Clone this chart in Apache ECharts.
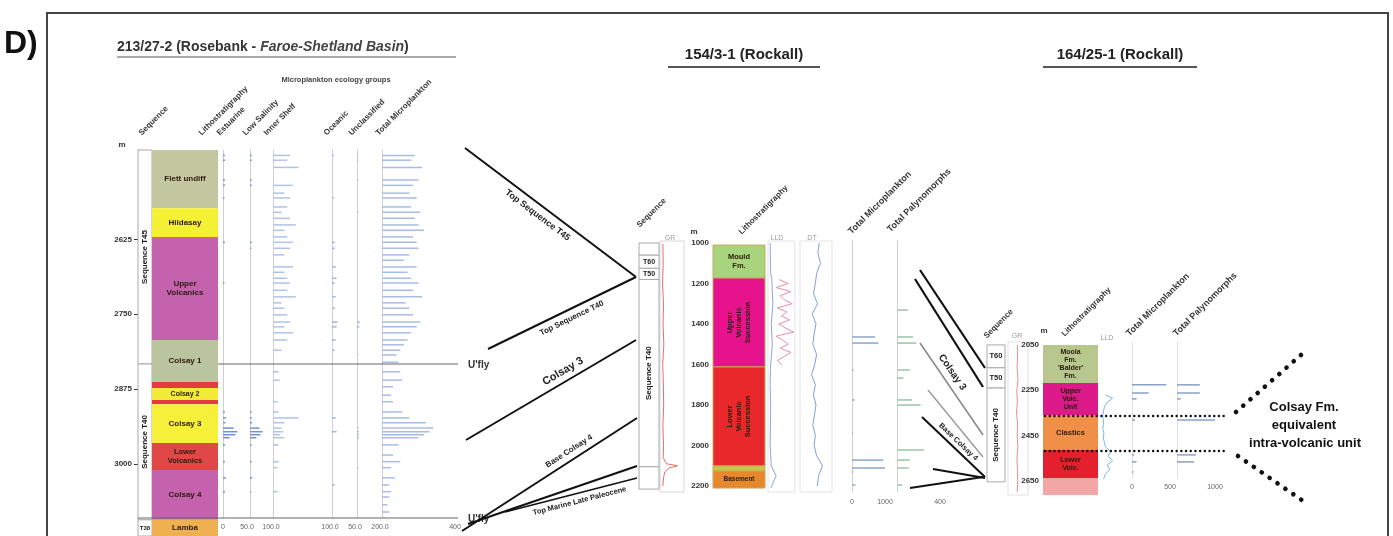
<!DOCTYPE html>
<html><head><meta charset="utf-8">
<script src="https://cdn.jsdelivr.net/npm/echarts@6/dist/echarts.min.js"></script>
<style>html,body{margin:0;padding:0;background:#fff}#c{width:1393px;height:536px}</style>
</head><body><div id="c"></div>
<script>
// ===================== DATA =====================
// --- Well 213/27-2 (Rosebank) ---
const leftDepthTicks = [2625, 2750, 2875, 3000];
const leftSeqNames = ['Sequence T45', 'Sequence T40', 'T38'];
const leftSeqTop  = [2476, 2833, 3093];
const leftSeqBase = [2833, 3093, 3120];
const leftLithoNames = ['Flett undiff', 'Hildasay', 'Upper\nVolcanics', 'Colsay 1', '', 'Colsay 2', '', 'Colsay 3', 'Lower\nVolcanics', 'Colsay 4', 'Lamba'];
const leftLithoTop  = [2476, 2573, 2621, 2793, 2863, 2873, 2893, 2900, 2965, 3010, 3093];
const leftLithoBase = [2573, 2621, 2793, 2863, 2873, 2893, 2900, 2965, 3010, 3093, 3120];
const leftMicroGroups = ['Estuarine', 'Low Salinity', 'Inner Shelf', 'Oceanic', 'Unclassified', 'Total Microplankton'];
const leftMicroMax = [50, 100, 100, 50, 200, 400];
const leftMicroTickText = ['50.0', '100.0', '100.0', '50.0', '200.0', '400'];
const leftSampleDepth = [2485,2493,2505,2526,2535,2548,2556,2571,2580,2590,2601,2610,2621,2630,2640,2651,2660,2671,2680,2690,2698,2710,2721,2731,2740,2751,2763,2771,2781,2793,2801,2810,2818,2830,2846,2860,2871,2885,2896,2913,2923,2931,2940,2946,2951,2956,2968,2985,2996,3006,3023,3035,3046,3055,3068,3080];
const leftEstuarine   = [4,4,0,4,4,0,3,0,0,0,0,0,0,4,0,0,0,0,0,0,3,0,0,0,0,0,0,0,0,0,0,0,0,0,0,0,0,0,0,4,6,5,22,30,26,14,4,0,4,0,6,0,4,0,0,0];
const leftLowSalinity = [8,8,0,8,8,0,0,0,0,0,0,0,0,8,6,0,0,0,0,0,0,0,0,0,0,0,0,0,0,0,0,0,0,0,0,0,0,0,0,8,8,10,45,60,50,30,8,0,8,0,10,0,6,0,0,0];
const leftInnerShelf  = [30,25,45,0,35,20,30,25,15,30,40,20,25,35,30,20,0,35,20,25,30,25,40,15,20,25,30,20,35,25,0,15,0,0,10,12,0,0,8,10,45,20,15,18,12,20,10,0,10,8,0,0,8,0,0,0];
const leftOceanic     = [4,0,0,0,0,0,4,0,0,0,0,0,0,6,6,0,0,8,0,10,6,0,8,0,6,0,12,10,0,8,0,6,0,0,0,0,0,0,0,0,8,0,0,10,0,0,0,0,0,0,0,6,0,0,0,0];
const leftUnclassified= [10,10,0,10,0,0,0,0,12,0,0,0,0,0,0,0,0,0,0,0,0,0,0,0,0,0,25,20,0,0,0,0,10,0,0,0,0,0,0,0,0,0,15,15,15,15,0,0,0,12,0,0,0,0,0,0];
const leftTotalMicro  = [180,160,220,200,170,150,190,160,210,180,200,230,170,190,200,150,120,190,140,160,200,170,220,130,150,170,210,190,160,140,120,100,80,90,100,110,60,50,60,110,150,240,280,260,230,200,90,60,100,50,70,40,50,40,30,40];
const leftUflyDepth = [2833, 3090];

// --- Well 154/3-1 (Rockall) ---
const midDepthTicks = [1000, 1200, 1400, 1600, 1800, 2000, 2200];
const midSeqNames = ['', 'T60', 'T50', 'Sequence T40', ''];
const midSeqTop  = [1000, 1060, 1125, 1180, 2105];
const midSeqBase = [1060, 1125, 1180, 2105, 2215];
const midLithoNames = ['Mould\nFm.', 'Upper\nVolcanic\nSuccession', 'Lower\nVolcanic\nSuccession', '', 'Basement'];
const midLithoTop  = [1010, 1173, 1612, 2101, 2126];
const midLithoBase = [1173, 1612, 2101, 2126, 2210];
const midGRDepth = [1005,1100,1200,1300,1400,1500,1600,1700,1800,1900,2000,2060,2090,2100,2110,2130,2160,2200];
const midGR      = [18,20,16,22,19,24,17,21,23,18,22,20,40,110,60,30,22,18];
const midLLDDepth = [1180,1200,1220,1240,1260,1280,1300,1320,1340,1360,1380,1400,1420,1440,1460,1480,1500,1520,1540,1560,1580,1600];
const midLLD      = [40,75,30,85,45,60,90,35,70,50,80,40,65,95,30,55,75,45,85,60,35,50];
const midLLSDepth = [1000,1150,1180,1300,1400,1500,1600,1620,1700,1800,1900,2000,2100,2150,2210];
const midLLS      = [8,10,14,18,12,16,10,9,8,10,9,8,12,30,10];
const midDTDepth = [1000,1050,1100,1150,1200,1250,1300,1350,1400,1450,1500,1550,1600,1650,1700,1750,1800,1850,1900,1950,2000,2050,2100,2150,2200];
const midDT      = [100,96,104,92,88,82,95,78,90,84,80,92,86,76,88,82,90,85,80,88,84,92,110,98,94];
const midMicroDepth = [1331,1464,1494,1627,1667,1775,1800,1938,2022,2072,2111,2131,2195];
const midTotMicro   = [0,700,800,50,0,80,0,30,0,950,1000,40,100];
const midTotPaly    = [100,150,180,120,60,140,220,0,250,120,110,0,50];

// --- Well 164/25-1 (Rockall) ---
const rightDepthTicks = [2050, 2250, 2450, 2650];
const rightSeqNames = ['T60', 'T50', 'Sequence T40'];
const rightSeqTop  = [2050, 2151, 2240];
const rightSeqBase = [2151, 2240, 2654];
const rightLithoNames = ["Moola\nFm.\n'Balder'\nFm.", 'Upper\nVolc.\nUnit', 'Clastics', 'Lower\nVolc.', ''];
const rightLithoTop  = [2050, 2218, 2359, 2513, 2637];
const rightLithoBase = [2218, 2359, 2513, 2637, 2712];
const rightGRDepth = [2050,2100,2150,2200,2250,2300,2350,2400,2450,2500,2550,2600,2650,2700];
const rightGR      = [70,72,68,75,66,70,64,72,69,74,67,71,73,69];
const rightLLDDepth = [2270,2285,2300,2320,2340,2360,2380,2400,2420,2440,2460,2480,2500,2520,2540,2560,2580,2600,2620,2640];
const rightLLD      = [30,70,45,25,20,15,18,20,15,22,18,25,30,60,45,70,40,55,30,20];
const rightMicroDepth = [2226,2262,2288,2381,2535,2566,2610];
const rightTotMicro   = [450,220,60,40,30,60,20];
const rightTotPaly    = [600,600,100,1000,500,450,0];

// --- Correlation panel (schematic connectors, panel units) ---
const connFrom = [[465,148],[488,349],[466,440],[462,531],[468,524],[505,512],[920,270],[915,279],[920,343],[928,390],[922,417],[933,469],[910,488]];
const connTo   = [[636,277],[636,277],[636,340],[637,418],[637,466],[637,478],[985,368],[983,387],[983,435],[983,457],[985,477],[985,478],[983,477]];
const connLabels = ['Top Sequence T45','Top Sequence T40','Colsay 3','Base Colsay 4','','Top Marine Late Paleocene','','','Colsay 3','','Base Colsay 4','',''];
const dotFrom = [[1045,416],[1045,451]];
const dotTo   = [[1228,416],[1228,451]];
const fanFrom = [[1236,412],[1238,456]];
const fanTo   = [[1302,354],[1306,503]];

// ===================== STYLE / LAYOUT =====================
const FONT = '"Liberation Sans", Arial, Helvetica, sans-serif';
const leftLithoColors = ['#c3c79f','#f4f034','#c462ae','#bac5a0','#e23c3c','#f2ec38','#e23c3c','#f6f03a','#e04848','#c462ae','#eeb050'];
const midLithoColors = ['#a8d47e','#e6138c','#e8282a','#c8c848','#e8882c'];
const rightLithoColors = ['#b8c78e','#dc1a8a','#f09048','#e4202e','#f2a6a6'];
const connStyle = [
  {c:'#111', w:2, t:0.46, off:10, fs:9},
  {c:'#111', w:2, t:0.54, off:9, fs:8},
  {c:'#111', w:2, t:0.6, off:-10, fs:11},
  {c:'#111', w:2, t:0.64, off:-9, fs:8},
  {c:'#111', w:2},
  {c:'#111', w:1.6, t:0.55, off:8, fs:7.5},
  {c:'#111', w:2.2},
  {c:'#111', w:2.2},
  {c:'#8a8a8a', w:1.6, t:0.38, off:-10, fs:10},
  {c:'#9a9a9a', w:1.4},
  {c:'#111', w:2, t:0.5, off:-7, fs:7.5},
  {c:'#111', w:1.8},
  {c:'#111', w:1.8}
];

const L = {top:150, h:386, min:2476, max:3120};
const Lpx = L.h / (L.max - L.min);
const Lmicro = {top:150, h:368};
const LmicroMax = L.min + Lmicro.h / Lpx;
const M = {top:241, h:251.1, min:990, max:2230};
const R = {top:342, h:153, min:2037, max:2712};
const Rpx = R.h / (R.max - R.min);
const RmicroH = 136;
const RmicroMax = R.min + RmicroH / Rpx;

const grids = [], xAxes = [], yAxes = [];
function addGrid(box, xa, ya, extra) {
  grids.push(Object.assign({left: box[0], top: box[1], width: box[2], height: box[3]}, extra || {}));
  const gi = grids.length - 1;
  xAxes.push(Object.assign({gridIndex: gi, type: 'value'}, xa));
  yAxes.push(Object.assign({gridIndex: gi, type: 'value'}, ya));
  return gi;
}
const hiddenX = () => ({show:false, min:0, max:1});
const hiddenD = (min, max) => ({show:false, inverse:true, min, max});
function labeledD(min, max, ticks, o) {
  return {show:true, inverse:true, min, max,
    axisLine:{show:!!o.line, onZero:false, lineStyle:{color:'#777', width:1}},
    axisTick:{show:!!o.tick, customValues:ticks, length:4, lineStyle:{color:'#333'}},
    axisLabel:{show:true, customValues:ticks, fontSize:o.fs||8, fontWeight:'bold', color:'#333', fontFamily:FONT, margin:o.margin||4,
      formatter: v => String(v)},
    splitLine:{show:false}};
}
function microY(min, max, color) {
  return {show:true, inverse:true, min, max,
    axisLine:{show:true, onZero:false, lineStyle:{color: color || '#cfcfcf', width:1}},
    axisTick:{show:false}, axisLabel:{show:false}, splitLine:{show:false}};
}
function microX(max, vals, fmt) {
  return {show:true, min:0, max, axisLine:{show:false}, axisTick:{show:false}, splitLine:{show:false},
    axisLabel:{customValues:vals, fontSize:7, color:'#666', fontFamily:FONT, margin:6, formatter:fmt}};
}

const series = [];
function unitsSeries(gi, names, tops, bases, colors, o) {
  return {type:'custom', xAxisIndex:gi, yAxisIndex:gi, clip:false, silent:true, z:o.z || 2,
    data: tops.map((t, i) => [t, bases[i]]), encode:{y:[0, 1]},
    renderItem(params, api) {
      const i = params.dataIndex;
      const a = api.coord([0, api.value(0)]);
      const b = api.coord([1, api.value(1)]);
      const ch = [{type:'rect', shape:{x:a[0], y:a[1], width:b[0]-a[0], height:b[1]-a[1]},
        style:{fill:colors[i], stroke:o.stroke || null, lineWidth:o.lw || 0}}];
      if (names[i]) {
        ch.push({type:'text', x:(a[0]+b[0])/2, y:(a[1]+b[1])/2, rotation:(o.rot && o.rot[i]) ? Math.PI/2 : 0,
          style:{text:names[i], align:'center', verticalAlign:'middle', fontSize:o.fs ? o.fs[i] : 8,
            fontWeight:'bold', fontFamily:FONT, fill:o.tc || '#2a1a0a', lineHeight:o.lh || 9}});
      }
      return {type:'group', children:ch};
    }};
}
function barsSeries(gi, depths, vals, color, thick) {
  return {type:'custom', xAxisIndex:gi, yAxisIndex:gi, clip:false, silent:true, z:3,
    data: depths.map((d, i) => [vals[i], d]).filter(v => v[0] > 0), encode:{x:0, y:1},
    renderItem(params, api) {
      const a = api.coord([0, api.value(1)]);
      const b = api.coord([api.value(0), api.value(1)]);
      return {type:'rect', shape:{x:a[0], y:a[1]-thick/2, width:Math.max(1, b[0]-a[0]), height:thick}, style:{fill:color}};
    }};
}
function logSeries(gi, depths, vals, color, w) {
  return {type:'line', xAxisIndex:gi, yAxisIndex:gi, silent:true, symbol:'none', showSymbol:false, z:3,
    data: depths.map((d, i) => [vals[i], d]), lineStyle:{color, width:w || 1}};
}

// ----- Left well -----
const gLseq = addGrid([138, L.top, 14, L.h], hiddenX(), labeledD(L.min, L.max, leftDepthTicks, {line:true, tick:true, margin:6}));
series.push(unitsSeries(gLseq, leftSeqNames, leftSeqTop, leftSeqBase, ['#fff','#fff','#fff'],
  {stroke:'#aaa', lw:1, rot:[1,1,0], fs:[8,8,6], tc:'#222'}));
const gLlith = addGrid([152, L.top, 66, L.h], hiddenX(), hiddenD(L.min, L.max));
series.push(unitsSeries(gLlith, leftLithoNames, leftLithoTop, leftLithoBase, leftLithoColors,
  {fs:[8,8,8,8,8,7,8,8,7.5,8,8], lh:9}));
const leftMicroBoxes = [[223,24],[250,21],[273,57],[332,23],[357,23],[382,73]];
const leftMicroData = [leftEstuarine, leftLowSalinity, leftInnerShelf, leftOceanic, leftUnclassified, leftTotalMicro];
const leftMicroColors = ['#6f8fd0','#6f8fd0','#b0c2ea','#a0b4e0','#a0b4e0','#a8bce6'];
leftMicroBoxes.forEach((bx, k) => {
  const vals = k === 0 ? [0, leftMicroMax[k]] : [leftMicroMax[k]];
  const gi = addGrid([bx[0], Lmicro.top, bx[1], Lmicro.h],
    microX(leftMicroMax[k], vals, v => v === 0 ? '0' : leftMicroTickText[k]),
    microY(L.min, LmicroMax));
  series.push(barsSeries(gi, leftSampleDepth, leftMicroData[k], leftMicroColors[k], 1.5));
});

// ----- Middle well -----
const gMseq = addGrid([639, M.top, 20, M.h], hiddenX(), hiddenD(M.min, M.max));
series.push(unitsSeries(gMseq, midSeqNames, midSeqTop, midSeqBase, ['#fff','#fff','#fff','#fff','#fff'],
  {stroke:'#aaa', lw:1, rot:[0,0,0,1,0], fs:[7,7,7,8,7], tc:'#222'}));
const gMgr = addGrid([660, M.top, 24, M.h], {show:false, min:0, max:150}, hiddenD(M.min, M.max), {show:true, borderColor:'#d8d8d8', borderWidth:1});
series.push(logSeries(gMgr, midGRDepth, midGR, '#e07070', 1));
const gMlith = addGrid([713, M.top, 52, M.h], hiddenX(), labeledD(M.min, M.max, midDepthTicks, {margin:4}));
series.push(unitsSeries(gMlith, midLithoNames, midLithoTop, midLithoBase, midLithoColors,
  {stroke:'#c8a860', lw:1, rot:[0,1,1,0,0], fs:[7.5,7.5,7.5,6,6.5], lh:9}));
const gMlld = addGrid([768, M.top, 27, M.h], {show:false, min:0, max:100}, hiddenD(M.min, M.max), {show:true, borderColor:'#e4e4e4', borderWidth:1});
series.push(logSeries(gMlld, midLLSDepth, midLLS, '#8aa8e0', 1));
series.push(logSeries(gMlld, midLLDDepth, midLLD, '#ea90a8', 1));
const gMdt = addGrid([800, M.top, 32, M.h], {show:false, min:40, max:140}, hiddenD(M.min, M.max), {show:true, borderColor:'#e4e4e4', borderWidth:1});
series.push(logSeries(gMdt, midDTDepth, midDT, '#7f9fe0', 1));
const gMm1 = addGrid([852, M.top, 33, M.h], microX(1000, [0, 1000], v => String(v)), microY(M.min, M.max));
series.push(barsSeries(gMm1, midMicroDepth, midTotMicro, '#8aa8c8', 1.5));
const gMm2 = addGrid([897, M.top, 43, M.h], microX(400, [400], v => String(v)), microY(M.min, M.max));
series.push(barsSeries(gMm2, midMicroDepth, midTotPaly, '#9cc4a8', 1.5));

// ----- Right well -----
const gRseq = addGrid([987, R.top, 18, R.h], hiddenX(), hiddenD(R.min, R.max));
series.push(unitsSeries(gRseq, rightSeqNames, rightSeqTop, rightSeqBase, ['#fff','#fff','#fff'],
  {stroke:'#aaa', lw:1, rot:[0,0,1], fs:[7.5,7.5,8], tc:'#222'}));
const gRgr = addGrid([1008, R.top, 20, R.h], {show:false, min:0, max:150}, hiddenD(R.min, R.max), {show:true, borderColor:'#e0e0e0', borderWidth:1});
series.push(logSeries(gRgr, rightGRDepth, rightGR, '#e89090', 1));
const gRlith = addGrid([1043, R.top, 55, R.h], hiddenX(), labeledD(R.min, R.max, rightDepthTicks, {margin:4}));
series.push(unitsSeries(gRlith, rightLithoNames, rightLithoTop, rightLithoBase, rightLithoColors,
  {fs:[7,7,7.5,7,7], lh:8}));
const gRlld = addGrid([1100, R.top, 18, R.h], {show:false, min:0, max:100}, hiddenD(R.min, R.max));
series.push(logSeries(gRlld, rightLLDDepth, rightLLD, '#7ab8e0', 1));
const gRm1 = addGrid([1132, R.top, 38, RmicroH], microX(500, [0, 500], v => String(v)), microY(R.min, RmicroMax, '#e0e0e0'));
series.push(barsSeries(gRm1, rightMicroDepth, rightTotMicro, '#8aa0c8', 1.5));
const gRm2 = addGrid([1177, R.top, 38, RmicroH], microX(1000, [1000], v => String(v)), microY(R.min, RmicroMax, '#e0e0e0'));
series.push(barsSeries(gRm2, rightMicroDepth, rightTotPaly, '#8aa0c8', 1.5));

// U'fly lines drawn on the left-well depth scale
const gUfly = addGrid([218, L.top, 240, L.h], hiddenX(), hiddenD(L.min, L.max));
series.push({type:'custom', xAxisIndex:gUfly, yAxisIndex:gUfly, clip:false, silent:true, z:4,
  data: leftUflyDepth.map(d => [d]), encode:{y:0},
  renderItem(params, api) {
    const a = api.coord([params.dataIndex === 1 ? -0.333 : 0, api.value(0)]);
    const b = api.coord([1, api.value(0)]);
    return {type:'group', children:[
      {type:'line', shape:{x1:a[0], y1:a[1], x2:b[0], y2:b[1]}, style:{stroke:'#666', lineWidth:1.2}},
      {type:'text', x:b[0]+10, y:b[1]+1, style:{text:"U'fly", align:'left', verticalAlign:'middle', fontSize:10, fontWeight:'bold', fontFamily:FONT, fill:'#333'}}
    ]};
  }});

// ----- Overlay correlation panel -----
const gO = addGrid([0, 0, 1393, 536], {show:false, min:0, max:1393}, {show:false, inverse:true, min:0, max:536});
series.push({type:'custom', xAxisIndex:gO, yAxisIndex:gO, clip:false, silent:true, z:5,
  data: connFrom.map((f, i) => [f[0], f[1], connTo[i][0], connTo[i][1]]), encode:{x:[0,2], y:[1,3]},
  renderItem(params, api) {
    const i = params.dataIndex, st = connStyle[i];
    const p = api.coord([api.value(0), api.value(1)]);
    const q = api.coord([api.value(2), api.value(3)]);
    const ch = [{type:'line', shape:{x1:p[0], y1:p[1], x2:q[0], y2:q[1]}, style:{stroke:st.c, lineWidth:st.w}}];
    if (connLabels[i]) {
      const th = Math.atan2(q[1]-p[1], q[0]-p[0]);
      const nx = -Math.sin(th), ny = Math.cos(th);
      ch.push({type:'text', x:p[0]+(q[0]-p[0])*st.t + st.off*nx, y:p[1]+(q[1]-p[1])*st.t + st.off*ny, rotation:-th,
        style:{text:connLabels[i], align:'center', verticalAlign:'middle', fontSize:st.fs, fontWeight:'bold', fontFamily:FONT, fill:'#222'}});
    }
    return {type:'group', children:ch};
  }});
dotFrom.forEach((f, i) => series.push({type:'line', xAxisIndex:gO, yAxisIndex:gO, silent:true, symbol:'none', z:6,
  data:[f, dotTo[i]], lineStyle:{color:'#111', width:2.4, type:[0.1, 4.6], cap:'round'}}));
fanFrom.forEach((f, i) => series.push({type:'line', xAxisIndex:gO, yAxisIndex:gO, silent:true, symbol:'none', z:6,
  data:[f, fanTo[i]], lineStyle:{color:'#111', width:4.6, type:[0.1, 9.5], cap:'round'}}));

// ----- Static text -----
function rotText(text, x, y, fs) {
  return {type:'text', x, y, rotation:Math.PI/4, silent:true,
    style:{text, align:'left', verticalAlign:'bottom', fontSize:fs || 8, fontWeight:'bold', fontFamily:FONT, fill:'#333'}};
}
function plainText(text, x, y, o) {
  return {type:'text', x, y, silent:true, style:Object.assign({text, align:'center', verticalAlign:'middle', fontSize:8, fontFamily:FONT, fill:'#333'}, o || {})};
}
const elements = [
  {type:'rect', silent:true, shape:{x:47, y:13, width:1341, height:540}, style:{fill:'none', stroke:'#444', lineWidth:2}},
  plainText('D)', 4, 44, {align:'left', fontSize:32, fontWeight:'bold', fill:'#111'}),
  {type:'text', x:117, y:47, silent:true, style:{text:'{a|213/27-2 (Rosebank - }{b|Faroe-Shetland Basin}{a|)}', align:'left', verticalAlign:'middle',
    rich:{a:{fontSize:14, fontWeight:'bold', fontFamily:FONT, fill:'#333'}, b:{fontSize:14, fontWeight:'bold', fontStyle:'italic', fontFamily:FONT, fill:'#444'}}}},
  {type:'line', silent:true, shape:{x1:117, y1:57, x2:456, y2:57}, style:{stroke:'#555', lineWidth:1.2}},
  plainText('154/3-1 (Rockall)', 744, 55, {fontSize:15, fontWeight:'bold', fill:'#222'}),
  {type:'line', silent:true, shape:{x1:668, y1:67, x2:820, y2:67}, style:{stroke:'#555', lineWidth:2}},
  plainText('164/25-1 (Rockall)', 1120, 55, {fontSize:15, fontWeight:'bold', fill:'#222'}),
  {type:'line', silent:true, shape:{x1:1043, y1:67, x2:1197, y2:67}, style:{stroke:'#555', lineWidth:2}},
  plainText('Microplankton ecology groups', 336, 80, {fontSize:7.5, fontWeight:'bold', fill:'#444'}),
  plainText('m', 122, 145, {fontSize:8, fontWeight:'bold'}),
  rotText('Sequence', 143, 137), rotText('Lithostratigraphy', 203, 137), rotText(leftMicroGroups[0], 221, 137),
  rotText(leftMicroGroups[1], 247, 137), rotText(leftMicroGroups[2], 268, 137), rotText(leftMicroGroups[3], 328, 137),
  rotText(leftMicroGroups[4], 353, 137), rotText(leftMicroGroups[5], 380, 137),
  rotText('Sequence', 641, 229), plainText('GR', 670, 238, {fontSize:7, fill:'#999'}),
  plainText('m', 694, 232, {fontSize:8, fontWeight:'bold'}), rotText('Lithostratigraphy', 743, 236),
  plainText('LLD', 777, 238, {fontSize:7, fill:'#999'}), plainText('DT', 812, 238, {fontSize:7, fill:'#999'}),
  rotText('Total Microplankton', 853, 236, 9), rotText('Total Palynomorphs', 892, 234, 9),
  rotText('Sequence', 988, 340), plainText('GR', 1017, 336, {fontSize:7, fill:'#999'}),
  plainText('m', 1044, 331, {fontSize:8, fontWeight:'bold'}), rotText('Lithostratigraphy', 1066, 338),
  plainText('LLD', 1107, 338, {fontSize:7, fill:'#999'}),
  rotText('Total Microplankton', 1131, 338, 9), rotText('Total Palynomorphs', 1178, 338, 9),
  plainText('Colsay Fm.', 1304, 407, {fontSize:13, fontWeight:'bold', fill:'#111'}),
  plainText('equivalent', 1304, 425, {fontSize:13, fontWeight:'bold', fill:'#111'}),
  plainText('intra-volcanic unit', 1305, 443, {fontSize:13, fontWeight:'bold', fill:'#111'})
];

const chart = echarts.init(document.getElementById('c'), null, {renderer:'canvas'});
chart.setOption({animation:false, backgroundColor:'#fff', grid:grids, xAxis:xAxes, yAxis:yAxes, series, graphic:{elements}});
</script></body></html>
